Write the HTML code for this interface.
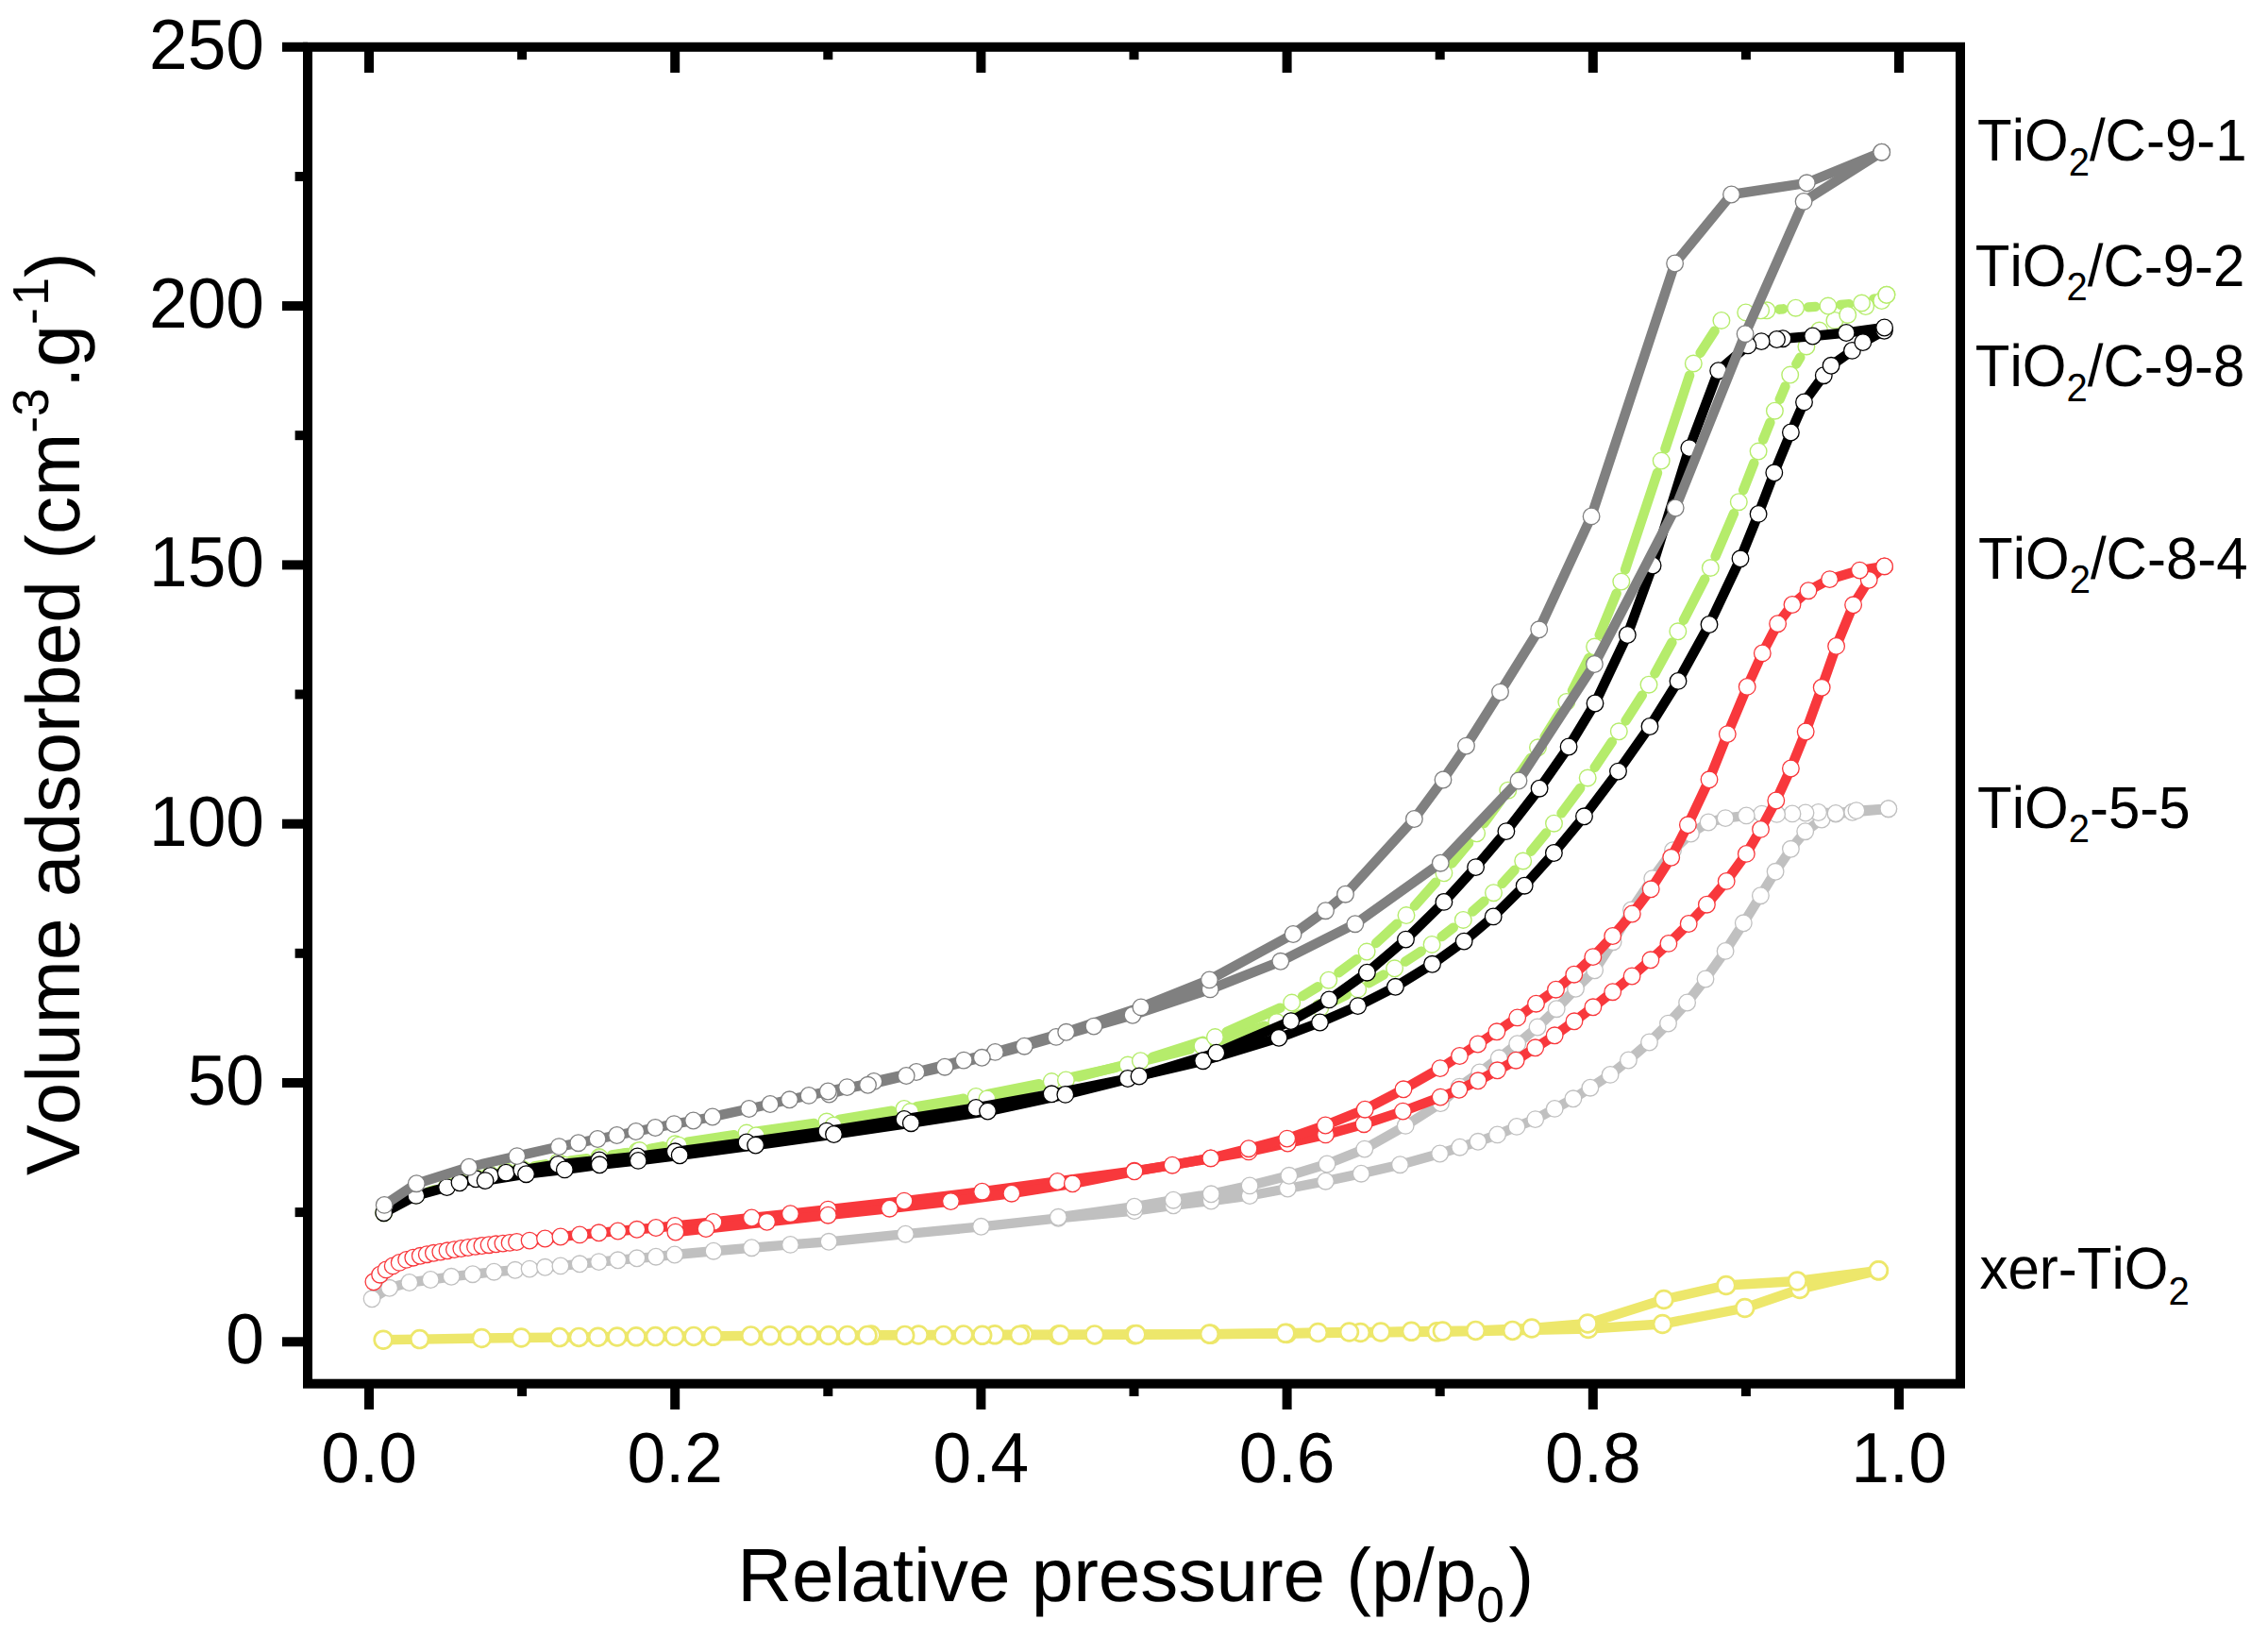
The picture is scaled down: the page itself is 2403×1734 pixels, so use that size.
<!DOCTYPE html>
<html lang="en"><head><meta charset="utf-8"><title>N2 adsorption isotherms</title>
<style>
html,body{margin:0;padding:0;background:#fff;}
body{width:2403px;height:1734px;overflow:hidden;}
svg{display:block;}
text{font-family:"Liberation Sans", Arial, Helvetica, sans-serif;fill:#000;font-kerning:none;text-rendering:geometricPrecision;}
</style></head><body>
<svg width="2403" height="1734" viewBox="0 0 2403 1734">
<rect x="0" y="0" width="2403" height="1734" fill="#ffffff"/>
<g id="sF">
<polyline points="406.1,1419.2 444.6,1418.6 510.3,1417.5 552.2,1417.0 592.8,1416.6 613.3,1416.4 633.6,1416.2 653.9,1416.0 674.1,1415.8 694.4,1415.6 714.7,1415.5 735.0,1415.4 755.3,1415.3 795.6,1414.9 816.1,1414.8 835.7,1414.7 856.9,1414.6 878.0,1414.5 897.9,1414.4 919.0,1414.4 958.7,1414.4 999.7,1414.4 1040.7,1414.3 1080.4,1414.2 1121.4,1414.0 1159.8,1413.9 1202.1,1413.7 1282.8,1413.3 1363.5,1412.5 1441.5,1411.5 1522.4,1410.8 1602.5,1409.4 1682.8,1407.5 1761.4,1402.5 1848.7,1385.5 1906.9,1365.5 1990.4,1345.8" fill="none" stroke="#EDE76B" stroke-width="10.4" stroke-linejoin="round" stroke-linecap="butt"/>
<polyline points="1990.4,1345.8 1904.3,1357.0 1828.9,1361.5 1762.9,1376.5 1682.2,1402.0 1622.9,1407.0 1563.5,1409.4 1528.4,1410.0 1495.4,1410.3 1463.0,1411.0 1429.5,1411.0 1396.5,1411.5 1362.0,1412.3 1281.4,1413.1 1204.0,1413.5 1123.5,1413.8 1084.4,1413.6 1054.0,1413.8 1020.9,1413.9 973.3,1414.0 923.0,1414.1" fill="none" stroke="#EDE76B" stroke-width="10.4" stroke-linejoin="round" stroke-linecap="butt"/>
<g fill="#ffffff" stroke="#EDE76B" stroke-width="2.7">
<circle cx="1084.4" cy="1413.6" r="9.4"/>
<circle cx="1054.0" cy="1413.8" r="9.4"/>
<circle cx="1020.9" cy="1413.9" r="9.4"/>
<circle cx="973.3" cy="1414.0" r="9.4"/>
<circle cx="923.0" cy="1414.1" r="9.4"/>
</g>
<g fill="#ffffff" stroke="#EDE76B" stroke-width="2.7">
<circle cx="406.1" cy="1419.2" r="9.4"/>
<circle cx="444.6" cy="1418.6" r="9.4"/>
<circle cx="510.3" cy="1417.5" r="9.4"/>
<circle cx="552.2" cy="1417.0" r="9.4"/>
<circle cx="592.8" cy="1416.6" r="9.4"/>
<circle cx="613.3" cy="1416.4" r="9.4"/>
<circle cx="633.6" cy="1416.2" r="9.4"/>
<circle cx="653.9" cy="1416.0" r="9.4"/>
<circle cx="674.1" cy="1415.8" r="9.4"/>
<circle cx="694.4" cy="1415.6" r="9.4"/>
<circle cx="714.7" cy="1415.5" r="9.4"/>
<circle cx="735.0" cy="1415.4" r="9.4"/>
<circle cx="755.3" cy="1415.3" r="9.4"/>
<circle cx="795.6" cy="1414.9" r="9.4"/>
<circle cx="816.1" cy="1414.8" r="9.4"/>
<circle cx="835.7" cy="1414.7" r="9.4"/>
<circle cx="856.9" cy="1414.6" r="9.4"/>
<circle cx="878.0" cy="1414.5" r="9.4"/>
<circle cx="897.9" cy="1414.4" r="9.4"/>
<circle cx="919.0" cy="1414.4" r="9.4"/>
<circle cx="958.7" cy="1414.4" r="9.4"/>
<circle cx="999.7" cy="1414.4" r="9.4"/>
<circle cx="1040.7" cy="1414.3" r="9.4"/>
<circle cx="1080.4" cy="1414.2" r="9.4"/>
<circle cx="1121.4" cy="1414.0" r="9.4"/>
<circle cx="1159.8" cy="1413.9" r="9.4"/>
<circle cx="1202.1" cy="1413.7" r="9.4"/>
<circle cx="1282.8" cy="1413.3" r="9.4"/>
<circle cx="1363.5" cy="1412.5" r="9.4"/>
<circle cx="1441.5" cy="1411.5" r="9.4"/>
<circle cx="1522.4" cy="1410.8" r="9.4"/>
<circle cx="1602.5" cy="1409.4" r="9.4"/>
<circle cx="1682.8" cy="1407.5" r="9.4"/>
<circle cx="1761.4" cy="1402.5" r="9.4"/>
<circle cx="1848.7" cy="1385.5" r="9.4"/>
<circle cx="1906.9" cy="1365.5" r="9.4"/>
<circle cx="1990.4" cy="1345.8" r="9.4"/>
</g>
<g fill="#ffffff" stroke="#EDE76B" stroke-width="2.7">
<circle cx="1990.4" cy="1345.8" r="9.4"/>
<circle cx="1904.3" cy="1357.0" r="9.4"/>
<circle cx="1828.9" cy="1361.5" r="9.4"/>
<circle cx="1762.9" cy="1376.5" r="9.4"/>
<circle cx="1682.2" cy="1402.0" r="9.4"/>
<circle cx="1622.9" cy="1407.0" r="9.4"/>
<circle cx="1563.5" cy="1409.4" r="9.4"/>
<circle cx="1528.4" cy="1410.0" r="9.4"/>
<circle cx="1495.4" cy="1410.3" r="9.4"/>
<circle cx="1463.0" cy="1411.0" r="9.4"/>
<circle cx="1429.5" cy="1411.0" r="9.4"/>
<circle cx="1396.5" cy="1411.5" r="9.4"/>
<circle cx="1362.0" cy="1412.3" r="9.4"/>
<circle cx="1281.4" cy="1413.1" r="9.4"/>
<circle cx="1204.0" cy="1413.5" r="9.4"/>
<circle cx="1123.5" cy="1413.8" r="9.4"/>
</g>
</g>
<g id="sE">
<polyline points="394.1,1375.8 412.6,1364.3 433.8,1358.5 456.2,1355.5 478.2,1352.3 500.8,1349.7 523.4,1347.2 545.8,1345.3 561.1,1344.1 577.5,1342.3 593.9,1340.9 614.2,1338.8 634.5,1336.6 654.7,1334.8 674.8,1332.8 695.0,1331.2 714.8,1329.0 756.0,1325.2 796.4,1321.7 837.4,1318.4 878.1,1315.3 959.4,1307.2 1039.5,1299.3 1121.3,1290.3 1201.9,1282.5 1243.2,1276.8 1283.2,1272.0 1324.1,1266.5 1364.3,1259.0 1404.5,1251.2 1442.2,1243.2 1483.4,1233.7 1525.6,1222.0 1546.7,1215.2 1566.0,1209.3 1586.5,1201.9 1607.0,1193.4 1626.7,1185.6 1647.2,1174.4 1666.9,1163.8 1684.9,1152.2 1706.1,1138.4 1725.4,1123.0 1747.5,1104.0 1767.5,1084.1 1787.6,1062.0 1807.0,1037.0 1828.1,1007.4 1847.3,977.8 1865.4,948.7 1881.1,923.3 1897.4,899.3 1912.7,880.7 1930.1,868.0 1945.0,862.1 1962.6,860.3 2000.8,856.7" fill="none" stroke="#C0C0C0" stroke-width="10.4" stroke-linejoin="round" stroke-linecap="butt"/>
<polyline points="2000.8,856.7 1966.9,858.6 1945.0,861.5 1926.6,860.5 1913.0,861.0 1899.0,861.9 1882.6,862.4 1866.7,862.1 1850.3,863.9 1828.1,866.6 1810.1,871.0 1791.5,883.0 1772.5,900.7 1750.7,930.6 1728.4,964.0 1709.1,997.7 1689.6,1027.8 1669.5,1047.3 1649.2,1068.7 1629.0,1088.0 1607.7,1105.7 1588.3,1120.8 1567.7,1136.0 1546.3,1151.1 1526.5,1168.6 1489.2,1192.4 1445.8,1217.1 1406.0,1233.0 1365.8,1245.3 1324.1,1255.9 1283.2,1264.8 1243.2,1271.2 1201.9,1278.2 1121.3,1289.3" fill="none" stroke="#C0C0C0" stroke-width="10.4" stroke-linejoin="round" stroke-linecap="butt"/>
<g fill="#ffffff" stroke="#C0C0C0" stroke-width="1.3">
<circle cx="394.1" cy="1375.8" r="8.8"/>
<circle cx="412.6" cy="1364.3" r="8.8"/>
<circle cx="433.8" cy="1358.5" r="8.8"/>
<circle cx="456.2" cy="1355.5" r="8.8"/>
<circle cx="478.2" cy="1352.3" r="8.8"/>
<circle cx="500.8" cy="1349.7" r="8.8"/>
<circle cx="523.4" cy="1347.2" r="8.8"/>
<circle cx="545.8" cy="1345.3" r="8.8"/>
<circle cx="561.1" cy="1344.1" r="8.8"/>
<circle cx="577.5" cy="1342.3" r="8.8"/>
<circle cx="593.9" cy="1340.9" r="8.8"/>
<circle cx="614.2" cy="1338.8" r="8.8"/>
<circle cx="634.5" cy="1336.6" r="8.8"/>
<circle cx="654.7" cy="1334.8" r="8.8"/>
<circle cx="674.8" cy="1332.8" r="8.8"/>
<circle cx="695.0" cy="1331.2" r="8.8"/>
<circle cx="714.8" cy="1329.0" r="8.8"/>
<circle cx="756.0" cy="1325.2" r="8.8"/>
<circle cx="796.4" cy="1321.7" r="8.8"/>
<circle cx="837.4" cy="1318.4" r="8.8"/>
<circle cx="878.1" cy="1315.3" r="8.8"/>
<circle cx="959.4" cy="1307.2" r="8.8"/>
<circle cx="1039.5" cy="1299.3" r="8.8"/>
<circle cx="1121.3" cy="1290.3" r="8.8"/>
<circle cx="1201.9" cy="1282.5" r="8.8"/>
<circle cx="1243.2" cy="1276.8" r="8.8"/>
<circle cx="1283.2" cy="1272.0" r="8.8"/>
<circle cx="1324.1" cy="1266.5" r="8.8"/>
<circle cx="1364.3" cy="1259.0" r="8.8"/>
<circle cx="1404.5" cy="1251.2" r="8.8"/>
<circle cx="1442.2" cy="1243.2" r="8.8"/>
<circle cx="1483.4" cy="1233.7" r="8.8"/>
<circle cx="1525.6" cy="1222.0" r="8.8"/>
<circle cx="1546.7" cy="1215.2" r="8.8"/>
<circle cx="1566.0" cy="1209.3" r="8.8"/>
<circle cx="1586.5" cy="1201.9" r="8.8"/>
<circle cx="1607.0" cy="1193.4" r="8.8"/>
<circle cx="1626.7" cy="1185.6" r="8.8"/>
<circle cx="1647.2" cy="1174.4" r="8.8"/>
<circle cx="1666.9" cy="1163.8" r="8.8"/>
<circle cx="1684.9" cy="1152.2" r="8.8"/>
<circle cx="1706.1" cy="1138.4" r="8.8"/>
<circle cx="1725.4" cy="1123.0" r="8.8"/>
<circle cx="1747.5" cy="1104.0" r="8.8"/>
<circle cx="1767.5" cy="1084.1" r="8.8"/>
<circle cx="1787.6" cy="1062.0" r="8.8"/>
<circle cx="1807.0" cy="1037.0" r="8.8"/>
<circle cx="1828.1" cy="1007.4" r="8.8"/>
<circle cx="1847.3" cy="977.8" r="8.8"/>
<circle cx="1865.4" cy="948.7" r="8.8"/>
<circle cx="1881.1" cy="923.3" r="8.8"/>
<circle cx="1897.4" cy="899.3" r="8.8"/>
<circle cx="1912.7" cy="880.7" r="8.8"/>
<circle cx="1930.1" cy="868.0" r="8.8"/>
<circle cx="1945.0" cy="862.1" r="8.8"/>
<circle cx="1962.6" cy="860.3" r="8.8"/>
<circle cx="2000.8" cy="856.7" r="8.8"/>
</g>
<g fill="#ffffff" stroke="#C0C0C0" stroke-width="1.3">
<circle cx="2000.8" cy="856.7" r="8.8"/>
<circle cx="1966.9" cy="858.6" r="8.8"/>
<circle cx="1945.0" cy="861.5" r="8.8"/>
<circle cx="1926.6" cy="860.5" r="8.8"/>
<circle cx="1913.0" cy="861.0" r="8.8"/>
<circle cx="1899.0" cy="861.9" r="8.8"/>
<circle cx="1882.6" cy="862.4" r="8.8"/>
<circle cx="1866.7" cy="862.1" r="8.8"/>
<circle cx="1850.3" cy="863.9" r="8.8"/>
<circle cx="1828.1" cy="866.6" r="8.8"/>
<circle cx="1810.1" cy="871.0" r="8.8"/>
<circle cx="1791.5" cy="883.0" r="8.8"/>
<circle cx="1772.5" cy="900.7" r="8.8"/>
<circle cx="1750.7" cy="930.6" r="8.8"/>
<circle cx="1728.4" cy="964.0" r="8.8"/>
<circle cx="1709.1" cy="997.7" r="8.8"/>
<circle cx="1689.6" cy="1027.8" r="8.8"/>
<circle cx="1669.5" cy="1047.3" r="8.8"/>
<circle cx="1649.2" cy="1068.7" r="8.8"/>
<circle cx="1629.0" cy="1088.0" r="8.8"/>
<circle cx="1607.7" cy="1105.7" r="8.8"/>
<circle cx="1588.3" cy="1120.8" r="8.8"/>
<circle cx="1567.7" cy="1136.0" r="8.8"/>
<circle cx="1546.3" cy="1151.1" r="8.8"/>
<circle cx="1526.5" cy="1168.6" r="8.8"/>
<circle cx="1489.2" cy="1192.4" r="8.8"/>
<circle cx="1445.8" cy="1217.1" r="8.8"/>
<circle cx="1406.0" cy="1233.0" r="8.8"/>
<circle cx="1365.8" cy="1245.3" r="8.8"/>
<circle cx="1324.1" cy="1255.9" r="8.8"/>
<circle cx="1283.2" cy="1264.8" r="8.8"/>
<circle cx="1243.2" cy="1271.2" r="8.8"/>
<circle cx="1201.9" cy="1278.2" r="8.8"/>
<circle cx="1121.3" cy="1289.3" r="8.8"/>
</g>
</g>
<g id="sD">
<polyline points="395.9,1357.8 402.6,1350.2 409.1,1344.9 416.2,1340.9 423.2,1337.4 430.6,1334.4 437.8,1332.2 445.3,1330.3 452.3,1328.7 459.4,1327.3 466.8,1326.1 474.0,1324.8 481.4,1323.6 488.8,1322.5 496.0,1321.5 503.5,1320.4 510.9,1319.5 518.1,1318.7 525.5,1317.8 532.9,1317.1 540.1,1316.4 547.5,1315.5 561.1,1314.1 577.5,1312.0 593.9,1310.0 614.2,1307.9 634.5,1305.8 654.7,1304.0 674.8,1302.3 695.0,1300.5 715.1,1298.4 756.0,1294.4 796.4,1290.0 837.4,1285.7 877.3,1281.1 958.0,1272.1 1040.6,1262.2 1120.4,1251.5 1201.9,1240.3 1242.1,1234.2 1282.8,1226.9 1323.0,1219.9 1364.3,1211.0 1404.5,1201.9 1445.1,1190.7 1486.4,1177.1 1526.2,1162.1 1545.9,1154.3 1566.0,1144.8 1586.5,1133.8 1606.2,1123.2 1626.7,1109.8 1647.2,1096.8 1668.0,1081.8 1687.9,1066.8 1708.7,1050.7 1729.1,1034.0 1748.9,1016.8 1767.9,999.4 1789.2,978.5 1808.4,958.2 1829.2,933.4 1850.3,904.4 1865.5,878.4 1881.8,848.0 1897.4,814.0 1913.2,775.0 1930.2,728.3 1945.6,684.4 1963.6,640.8 1980.2,614.3 1996.6,599.9" fill="none" stroke="#F8383C" stroke-width="10.4" stroke-linejoin="round" stroke-linecap="butt"/>
<polyline points="1996.6,599.9 1970.4,604.1 1938.6,613.6 1916.0,625.7 1899.0,640.5 1883.6,660.7 1867.3,691.9 1851.2,727.4 1830.3,777.6 1811.0,825.8 1788.4,873.8 1770.7,908.3 1749.2,941.8 1729.3,968.0 1708.7,991.5 1687.8,1013.6 1667.8,1032.2 1648.5,1048.2 1627.5,1063.2 1607.7,1077.9 1585.9,1092.8 1565.8,1106.0 1546.5,1118.5 1525.9,1131.6 1487.0,1153.8 1446.2,1175.2 1404.3,1192.0 1363.7,1206.1 1323.0,1216.7 1282.8,1226.9 1201.9,1240.8 1136.4,1253.8 1071.8,1264.2 1007.4,1272.6 942.5,1280.2 877.3,1287.2 812.6,1294.3 748.0,1301.5 715.8,1305.1" fill="none" stroke="#F8383C" stroke-width="10.4" stroke-linejoin="round" stroke-linecap="butt"/>
<g fill="#ffffff" stroke="#F8383C" stroke-width="1.3">
<circle cx="395.9" cy="1357.8" r="8.8"/>
<circle cx="402.6" cy="1350.2" r="8.8"/>
<circle cx="409.1" cy="1344.9" r="8.8"/>
<circle cx="416.2" cy="1340.9" r="8.8"/>
<circle cx="423.2" cy="1337.4" r="8.8"/>
<circle cx="430.6" cy="1334.4" r="8.8"/>
<circle cx="437.8" cy="1332.2" r="8.8"/>
<circle cx="445.3" cy="1330.3" r="8.8"/>
<circle cx="452.3" cy="1328.7" r="8.8"/>
<circle cx="459.4" cy="1327.3" r="8.8"/>
<circle cx="466.8" cy="1326.1" r="8.8"/>
<circle cx="474.0" cy="1324.8" r="8.8"/>
<circle cx="481.4" cy="1323.6" r="8.8"/>
<circle cx="488.8" cy="1322.5" r="8.8"/>
<circle cx="496.0" cy="1321.5" r="8.8"/>
<circle cx="503.5" cy="1320.4" r="8.8"/>
<circle cx="510.9" cy="1319.5" r="8.8"/>
<circle cx="518.1" cy="1318.7" r="8.8"/>
<circle cx="525.5" cy="1317.8" r="8.8"/>
<circle cx="532.9" cy="1317.1" r="8.8"/>
<circle cx="540.1" cy="1316.4" r="8.8"/>
<circle cx="547.5" cy="1315.5" r="8.8"/>
<circle cx="561.1" cy="1314.1" r="8.8"/>
<circle cx="577.5" cy="1312.0" r="8.8"/>
<circle cx="593.9" cy="1310.0" r="8.8"/>
<circle cx="614.2" cy="1307.9" r="8.8"/>
<circle cx="634.5" cy="1305.8" r="8.8"/>
<circle cx="654.7" cy="1304.0" r="8.8"/>
<circle cx="674.8" cy="1302.3" r="8.8"/>
<circle cx="695.0" cy="1300.5" r="8.8"/>
<circle cx="715.1" cy="1298.4" r="8.8"/>
<circle cx="756.0" cy="1294.4" r="8.8"/>
<circle cx="796.4" cy="1290.0" r="8.8"/>
<circle cx="837.4" cy="1285.7" r="8.8"/>
<circle cx="877.3" cy="1281.1" r="8.8"/>
<circle cx="958.0" cy="1272.1" r="8.8"/>
<circle cx="1040.6" cy="1262.2" r="8.8"/>
<circle cx="1120.4" cy="1251.5" r="8.8"/>
<circle cx="1201.9" cy="1240.3" r="8.8"/>
<circle cx="1242.1" cy="1234.2" r="8.8"/>
<circle cx="1282.8" cy="1226.9" r="8.8"/>
<circle cx="1323.0" cy="1219.9" r="8.8"/>
<circle cx="1364.3" cy="1211.0" r="8.8"/>
<circle cx="1404.5" cy="1201.9" r="8.8"/>
<circle cx="1445.1" cy="1190.7" r="8.8"/>
<circle cx="1486.4" cy="1177.1" r="8.8"/>
<circle cx="1526.2" cy="1162.1" r="8.8"/>
<circle cx="1545.9" cy="1154.3" r="8.8"/>
<circle cx="1566.0" cy="1144.8" r="8.8"/>
<circle cx="1586.5" cy="1133.8" r="8.8"/>
<circle cx="1606.2" cy="1123.2" r="8.8"/>
<circle cx="1626.7" cy="1109.8" r="8.8"/>
<circle cx="1647.2" cy="1096.8" r="8.8"/>
<circle cx="1668.0" cy="1081.8" r="8.8"/>
<circle cx="1687.9" cy="1066.8" r="8.8"/>
<circle cx="1708.7" cy="1050.7" r="8.8"/>
<circle cx="1729.1" cy="1034.0" r="8.8"/>
<circle cx="1748.9" cy="1016.8" r="8.8"/>
<circle cx="1767.9" cy="999.4" r="8.8"/>
<circle cx="1789.2" cy="978.5" r="8.8"/>
<circle cx="1808.4" cy="958.2" r="8.8"/>
<circle cx="1829.2" cy="933.4" r="8.8"/>
<circle cx="1850.3" cy="904.4" r="8.8"/>
<circle cx="1865.5" cy="878.4" r="8.8"/>
<circle cx="1881.8" cy="848.0" r="8.8"/>
<circle cx="1897.4" cy="814.0" r="8.8"/>
<circle cx="1913.2" cy="775.0" r="8.8"/>
<circle cx="1930.2" cy="728.3" r="8.8"/>
<circle cx="1945.6" cy="684.4" r="8.8"/>
<circle cx="1963.6" cy="640.8" r="8.8"/>
<circle cx="1980.2" cy="614.3" r="8.8"/>
<circle cx="1996.6" cy="599.9" r="8.8"/>
</g>
<g fill="#ffffff" stroke="#F8383C" stroke-width="1.3">
<circle cx="1996.6" cy="599.9" r="8.8"/>
<circle cx="1970.4" cy="604.1" r="8.8"/>
<circle cx="1938.6" cy="613.6" r="8.8"/>
<circle cx="1916.0" cy="625.7" r="8.8"/>
<circle cx="1899.0" cy="640.5" r="8.8"/>
<circle cx="1883.6" cy="660.7" r="8.8"/>
<circle cx="1867.3" cy="691.9" r="8.8"/>
<circle cx="1851.2" cy="727.4" r="8.8"/>
<circle cx="1830.3" cy="777.6" r="8.8"/>
<circle cx="1811.0" cy="825.8" r="8.8"/>
<circle cx="1788.4" cy="873.8" r="8.8"/>
<circle cx="1770.7" cy="908.3" r="8.8"/>
<circle cx="1749.2" cy="941.8" r="8.8"/>
<circle cx="1729.3" cy="968.0" r="8.8"/>
<circle cx="1708.7" cy="991.5" r="8.8"/>
<circle cx="1687.8" cy="1013.6" r="8.8"/>
<circle cx="1667.8" cy="1032.2" r="8.8"/>
<circle cx="1648.5" cy="1048.2" r="8.8"/>
<circle cx="1627.5" cy="1063.2" r="8.8"/>
<circle cx="1607.7" cy="1077.9" r="8.8"/>
<circle cx="1585.9" cy="1092.8" r="8.8"/>
<circle cx="1565.8" cy="1106.0" r="8.8"/>
<circle cx="1546.5" cy="1118.5" r="8.8"/>
<circle cx="1525.9" cy="1131.6" r="8.8"/>
<circle cx="1487.0" cy="1153.8" r="8.8"/>
<circle cx="1446.2" cy="1175.2" r="8.8"/>
<circle cx="1404.3" cy="1192.0" r="8.8"/>
<circle cx="1363.7" cy="1206.1" r="8.8"/>
<circle cx="1323.0" cy="1216.7" r="8.8"/>
<circle cx="1282.8" cy="1226.9" r="8.8"/>
<circle cx="1201.9" cy="1240.8" r="8.8"/>
<circle cx="1136.4" cy="1253.8" r="8.8"/>
<circle cx="1071.8" cy="1264.2" r="8.8"/>
<circle cx="1007.4" cy="1272.6" r="8.8"/>
<circle cx="942.5" cy="1280.2" r="8.8"/>
<circle cx="877.3" cy="1287.2" r="8.8"/>
<circle cx="812.6" cy="1294.3" r="8.8"/>
<circle cx="748.0" cy="1301.5" r="8.8"/>
<circle cx="715.8" cy="1305.1" r="8.8"/>
</g>
</g>
<g id="sB">
<path d="M418.4 1278.2L429.2 1272.3M453.8 1262.2L460.6 1260.2M565.9 1235.4L578.0 1233.3M604.5 1229.3L621.6 1227.2M648.1 1223.5L662.2 1221.3M688.6 1216.8L702.1 1214.3M728.5 1209.7L777.8 1202.1M804.3 1198.2L862.6 1189.9M889.1 1185.8L944.8 1176.6M971.2 1172.2L1020.9 1163.7M1047.2 1158.8L1101.1 1148.2M1127.3 1142.8L1181.8 1130.9M1207.9 1124.8L1260.9 1111.4M1286.6 1104.0L1340.0 1086.6M1365.4 1078.3L1386.1 1071.6M1410.8 1061.5L1426.7 1053.8M1450.4 1041.3L1465.9 1032.4M1488.9 1018.6L1505.8 1007.6M1527.6 992.1L1539.8 982.7M1560.3 965.5L1572.5 954.6M1591.6 935.9L1604.6 921.8M1622.2 901.7L1638.0 882.5M1654.5 861.4L1674.2 834.8M1689.7 812.9L1707.8 785.9M1722.5 763.5L1739.8 736.5M1753.4 713.4L1771.4 680.6M1783.9 656.9L1806.2 613.4M1817.6 589.2L1837.0 544.0M1847.1 519.2L1858.3 490.6M1868.1 465.7L1875.4 447.6M1885.7 422.9L1891.4 409.4M1903.3 385.5L1907.3 378.6" fill="none" stroke="#B5EC6B" stroke-width="10.4" stroke-linecap="round"/>
<path d="M1986.2 316.5L1985.2 316.8M1959.2 322.2L1950.2 322.9M1923.5 324.9L1916.0 325.4M1889.2 327.3L1885.4 327.7M1816.6 350.6L1801.6 373.8M1790.1 397.7L1764.4 475.4M1756.0 500.8L1722.0 603.4M1712.7 628.5L1694.7 672.6M1683.5 696.9L1665.9 731.5M1652.7 754.8L1636.6 780.4M1621.8 802.8L1605.5 826.2M1589.9 848.0L1572.5 872.0M1556.1 893.1L1538.4 914.5M1521.0 934.8L1498.9 959.6M1480.1 978.7L1458.0 999.0M1437.4 1016.1L1418.4 1030.2M1396.3 1045.2L1380.1 1055.1M1356.5 1067.6L1299.6 1093.1M1274.6 1102.7L1221.2 1119.6M1195.4 1127.0L1142.4 1140.6M1116.4 1147.0L1058.9 1160.8M1032.7 1166.1L977.6 1175.4M951.2 1179.9L896.2 1189.8M869.7 1193.8L814.4 1201.1M787.8 1204.5L732.5 1211.5M705.9 1214.9L690.9 1216.9M664.4 1221.0L648.7 1224.0M622.4 1229.1L611.4 1231.3M585.1 1236.1L570.7 1238.4M544.3 1242.9L527.3 1246.1" fill="none" stroke="#B5EC6B" stroke-width="10.4" stroke-linecap="round"/>
<g fill="#ffffff" stroke="#B5EC6B" stroke-width="1.4">
<circle cx="406.7" cy="1284.7" r="8.8"/>
<circle cx="440.9" cy="1265.8" r="8.8"/>
<circle cx="473.5" cy="1256.6" r="8.8"/>
<circle cx="487.0" cy="1251.7" r="8.8"/>
<circle cx="504.2" cy="1247.6" r="8.8"/>
<circle cx="519.6" cy="1244.1" r="8.8"/>
<circle cx="536.1" cy="1240.8" r="8.8"/>
<circle cx="552.7" cy="1237.7" r="8.8"/>
<circle cx="591.2" cy="1231.0" r="8.8"/>
<circle cx="634.9" cy="1225.6" r="8.8"/>
<circle cx="675.4" cy="1219.3" r="8.8"/>
<circle cx="715.3" cy="1211.8" r="8.8"/>
<circle cx="791.0" cy="1200.1" r="8.8"/>
<circle cx="875.9" cy="1188.0" r="8.8"/>
<circle cx="958.0" cy="1174.4" r="8.8"/>
<circle cx="1034.1" cy="1161.4" r="8.8"/>
<circle cx="1114.2" cy="1145.6" r="8.8"/>
<circle cx="1194.9" cy="1128.1" r="8.8"/>
<circle cx="1273.9" cy="1108.1" r="8.8"/>
<circle cx="1352.7" cy="1082.5" r="8.8"/>
<circle cx="1398.8" cy="1067.4" r="8.8"/>
<circle cx="1438.7" cy="1047.9" r="8.8"/>
<circle cx="1477.6" cy="1025.8" r="8.8"/>
<circle cx="1517.1" cy="1000.4" r="8.8"/>
<circle cx="1550.3" cy="974.4" r="8.8"/>
<circle cx="1582.5" cy="945.7" r="8.8"/>
<circle cx="1613.7" cy="912.0" r="8.8"/>
<circle cx="1646.5" cy="872.2" r="8.8"/>
<circle cx="1682.2" cy="824.0" r="8.8"/>
<circle cx="1715.3" cy="774.8" r="8.8"/>
<circle cx="1747.0" cy="725.2" r="8.8"/>
<circle cx="1777.8" cy="668.8" r="8.8"/>
<circle cx="1812.3" cy="601.5" r="8.8"/>
<circle cx="1842.3" cy="531.7" r="8.8"/>
<circle cx="1863.1" cy="478.1" r="8.8"/>
<circle cx="1880.4" cy="435.2" r="8.8"/>
<circle cx="1896.7" cy="397.1" r="8.8"/>
<circle cx="1913.9" cy="367.0" r="8.8"/>
<circle cx="1927.6" cy="350.0" r="8.8"/>
<circle cx="1943.9" cy="339.4" r="8.8"/>
<circle cx="1957.7" cy="333.5" r="8.8"/>
<circle cx="1976.7" cy="324.6" r="8.8"/>
<circle cx="1993.7" cy="318.6" r="8.8"/>
<circle cx="1998.9" cy="312.3" r="8.8"/>
</g>
<g fill="#ffffff" stroke="#B5EC6B" stroke-width="1.4">
<circle cx="1998.9" cy="312.3" r="8.8"/>
<circle cx="1972.5" cy="321.0" r="8.8"/>
<circle cx="1936.9" cy="324.1" r="8.8"/>
<circle cx="1902.6" cy="326.2" r="8.8"/>
<circle cx="1872.0" cy="328.8" r="8.8"/>
<circle cx="1865.6" cy="328.8" r="8.8"/>
<circle cx="1849.7" cy="330.9" r="8.8"/>
<circle cx="1823.9" cy="339.4" r="8.8"/>
<circle cx="1794.3" cy="385.0" r="8.8"/>
<circle cx="1760.2" cy="488.1" r="8.8"/>
<circle cx="1717.8" cy="616.1" r="8.8"/>
<circle cx="1689.6" cy="685.0" r="8.8"/>
<circle cx="1659.8" cy="743.4" r="8.8"/>
<circle cx="1629.5" cy="791.8" r="8.8"/>
<circle cx="1597.8" cy="837.2" r="8.8"/>
<circle cx="1564.6" cy="882.8" r="8.8"/>
<circle cx="1529.9" cy="924.8" r="8.8"/>
<circle cx="1490.0" cy="969.6" r="8.8"/>
<circle cx="1448.1" cy="1008.1" r="8.8"/>
<circle cx="1407.7" cy="1038.2" r="8.8"/>
<circle cx="1368.7" cy="1062.1" r="8.8"/>
<circle cx="1287.4" cy="1098.6" r="8.8"/>
<circle cx="1208.4" cy="1123.7" r="8.8"/>
<circle cx="1129.4" cy="1143.9" r="8.8"/>
<circle cx="1045.9" cy="1163.9" r="8.8"/>
<circle cx="964.4" cy="1177.6" r="8.8"/>
<circle cx="883.0" cy="1192.1" r="8.8"/>
<circle cx="801.1" cy="1202.8" r="8.8"/>
<circle cx="719.2" cy="1213.2" r="8.8"/>
<circle cx="677.6" cy="1218.6" r="8.8"/>
<circle cx="635.5" cy="1226.4" r="8.8"/>
<circle cx="598.3" cy="1234.0" r="8.8"/>
<circle cx="557.5" cy="1240.5" r="8.8"/>
<circle cx="514.1" cy="1248.5" r="8.8"/>
</g>
</g>
<g id="sC">
<polyline points="406.7,1284.7 440.9,1266.4 473.5,1257.6 487.0,1252.8 504.2,1248.8 519.6,1245.4 536.1,1242.2 552.7,1239.3 591.2,1233.4 634.9,1229.0 675.4,1225.0 715.3,1219.8 791.0,1209.9 875.9,1198.1 958.0,1185.5 1034.1,1173.4 1114.2,1158.8 1194.9,1142.5 1274.6,1123.7 1355.0,1099.3 1398.5,1083.0 1438.7,1065.6 1478.5,1045.3 1517.5,1021.3 1551.2,997.1 1582.2,970.9 1615.2,938.2 1646.4,903.5 1678.5,864.8 1714.5,817.1 1748.0,769.5 1778.0,721.4 1811.0,661.5 1844.0,591.8 1863.1,544.4 1879.8,500.8 1897.4,458.0 1911.5,425.9 1932.3,397.7 1940.1,387.3 1962.4,371.4 1973.8,362.6 1996.4,350.3" fill="none" stroke="#000000" stroke-width="10.4" stroke-linejoin="round" stroke-linecap="butt"/>
<polyline points="1996.6,347.0 1956.2,352.5 1920.6,356.0 1888.9,358.7 1882.5,359.5 1866.2,361.6 1851.9,365.9 1820.7,392.7 1789.8,474.6 1751.1,599.0 1724.3,672.5 1690.0,745.0 1662.1,791.0 1631.1,835.2 1595.9,880.6 1563.6,918.6 1529.9,955.4 1489.5,995.1 1448.4,1030.2 1408.2,1058.9 1367.8,1081.6 1288.8,1115.2 1207.0,1140.0 1128.8,1159.4 1046.5,1177.1 965.3,1189.7 883.5,1201.5 800.6,1213.1 720.2,1223.8 676.2,1229.4 635.3,1233.8 598.3,1238.9 557.5,1243.7 514.1,1250.6" fill="none" stroke="#000000" stroke-width="10.4" stroke-linejoin="round" stroke-linecap="butt"/>
<g fill="#ffffff" stroke="#000000" stroke-width="1.3">
<circle cx="406.7" cy="1284.7" r="8.8"/>
<circle cx="440.9" cy="1266.4" r="8.8"/>
<circle cx="473.5" cy="1257.6" r="8.8"/>
<circle cx="487.0" cy="1252.8" r="8.8"/>
<circle cx="504.2" cy="1248.8" r="8.8"/>
<circle cx="519.6" cy="1245.4" r="8.8"/>
<circle cx="536.1" cy="1242.2" r="8.8"/>
<circle cx="552.7" cy="1239.3" r="8.8"/>
<circle cx="591.2" cy="1233.4" r="8.8"/>
<circle cx="634.9" cy="1229.0" r="8.8"/>
<circle cx="675.4" cy="1225.0" r="8.8"/>
<circle cx="715.3" cy="1219.8" r="8.8"/>
<circle cx="791.0" cy="1209.9" r="8.8"/>
<circle cx="875.9" cy="1198.1" r="8.8"/>
<circle cx="958.0" cy="1185.5" r="8.8"/>
<circle cx="1034.1" cy="1173.4" r="8.8"/>
<circle cx="1114.2" cy="1158.8" r="8.8"/>
<circle cx="1194.9" cy="1142.5" r="8.8"/>
<circle cx="1274.6" cy="1123.7" r="8.8"/>
<circle cx="1355.0" cy="1099.3" r="8.8"/>
<circle cx="1398.5" cy="1083.0" r="8.8"/>
<circle cx="1438.7" cy="1065.6" r="8.8"/>
<circle cx="1478.5" cy="1045.3" r="8.8"/>
<circle cx="1517.5" cy="1021.3" r="8.8"/>
<circle cx="1551.2" cy="997.1" r="8.8"/>
<circle cx="1582.2" cy="970.9" r="8.8"/>
<circle cx="1615.2" cy="938.2" r="8.8"/>
<circle cx="1646.4" cy="903.5" r="8.8"/>
<circle cx="1678.5" cy="864.8" r="8.8"/>
<circle cx="1714.5" cy="817.1" r="8.8"/>
<circle cx="1748.0" cy="769.5" r="8.8"/>
<circle cx="1778.0" cy="721.4" r="8.8"/>
<circle cx="1811.0" cy="661.5" r="8.8"/>
<circle cx="1844.0" cy="591.8" r="8.8"/>
<circle cx="1863.1" cy="544.4" r="8.8"/>
<circle cx="1879.8" cy="500.8" r="8.8"/>
<circle cx="1897.4" cy="458.0" r="8.8"/>
<circle cx="1911.5" cy="425.9" r="8.8"/>
<circle cx="1932.3" cy="397.7" r="8.8"/>
<circle cx="1940.1" cy="387.3" r="8.8"/>
<circle cx="1962.4" cy="371.4" r="8.8"/>
<circle cx="1973.8" cy="362.6" r="8.8"/>
<circle cx="1996.4" cy="350.3" r="8.8"/>
</g>
<g fill="#ffffff" stroke="#000000" stroke-width="1.3">
<circle cx="1996.6" cy="347.0" r="8.8"/>
<circle cx="1956.2" cy="352.5" r="8.8"/>
<circle cx="1920.6" cy="356.0" r="8.8"/>
<circle cx="1888.9" cy="358.7" r="8.8"/>
<circle cx="1882.5" cy="359.5" r="8.8"/>
<circle cx="1866.2" cy="361.6" r="8.8"/>
<circle cx="1851.9" cy="365.9" r="8.8"/>
<circle cx="1820.7" cy="392.7" r="8.8"/>
<circle cx="1789.8" cy="474.6" r="8.8"/>
<circle cx="1751.1" cy="599.0" r="8.8"/>
<circle cx="1724.3" cy="672.5" r="8.8"/>
<circle cx="1690.0" cy="745.0" r="8.8"/>
<circle cx="1662.1" cy="791.0" r="8.8"/>
<circle cx="1631.1" cy="835.2" r="8.8"/>
<circle cx="1595.9" cy="880.6" r="8.8"/>
<circle cx="1563.6" cy="918.6" r="8.8"/>
<circle cx="1529.9" cy="955.4" r="8.8"/>
<circle cx="1489.5" cy="995.1" r="8.8"/>
<circle cx="1448.4" cy="1030.2" r="8.8"/>
<circle cx="1408.2" cy="1058.9" r="8.8"/>
<circle cx="1367.8" cy="1081.6" r="8.8"/>
<circle cx="1288.8" cy="1115.2" r="8.8"/>
<circle cx="1207.0" cy="1140.0" r="8.8"/>
<circle cx="1128.8" cy="1159.4" r="8.8"/>
<circle cx="1046.5" cy="1177.1" r="8.8"/>
<circle cx="965.3" cy="1189.7" r="8.8"/>
<circle cx="883.5" cy="1201.5" r="8.8"/>
<circle cx="800.6" cy="1213.1" r="8.8"/>
<circle cx="720.2" cy="1223.8" r="8.8"/>
<circle cx="676.2" cy="1229.4" r="8.8"/>
<circle cx="635.3" cy="1233.8" r="8.8"/>
<circle cx="598.3" cy="1238.9" r="8.8"/>
<circle cx="557.5" cy="1243.7" r="8.8"/>
<circle cx="514.1" cy="1250.6" r="8.8"/>
</g>
</g>
<g id="sA">
<polyline points="407.2,1276.4 441.3,1253.7 496.9,1236.2 547.8,1224.6 592.3,1214.6 612.8,1210.7 633.1,1206.5 653.6,1202.5 673.8,1198.5 694.3,1194.5 714.2,1190.6 734.6,1187.0 754.9,1183.0 793.6,1174.5 816.0,1169.5 836.5,1164.8 857.0,1160.4 877.3,1156.0 897.5,1151.6 919.5,1149.3 960.2,1139.5 1001.0,1130.2 1040.3,1120.3 1085.3,1108.2 1119.0,1098.4 1158.9,1087.1 1200.0,1075.3 1282.2,1047.9 1356.8,1018.3 1435.8,978.7 1526.3,914.2 1609.0,827.0 1689.4,703.5 1775.2,538.0 1849.1,353.7 1911.1,213.4 1993.7,161.2" fill="none" stroke="#808080" stroke-width="10.4" stroke-linejoin="round" stroke-linecap="butt"/>
<polyline points="1993.7,161.2 1914.3,193.8 1834.5,206.0 1774.6,279.0 1686.1,546.9 1630.7,666.8 1589.5,733.1 1553.5,790.1 1529.0,826.0 1498.4,867.5 1425.5,947.2 1404.5,964.7 1370.1,989.5 1281.4,1037.9 1208.9,1066.9 1129.7,1093.3 1054.4,1114.4 1021.2,1123.1 970.9,1135.5 925.9,1145.5 878.6,1159.0" fill="none" stroke="#808080" stroke-width="10.4" stroke-linejoin="round" stroke-linecap="butt"/>
<g fill="#ffffff" stroke="#808080" stroke-width="1.3">
<circle cx="1054.4" cy="1114.4" r="8.8"/>
<circle cx="1021.2" cy="1123.1" r="8.8"/>
<circle cx="970.9" cy="1135.5" r="8.8"/>
<circle cx="925.9" cy="1145.5" r="8.8"/>
<circle cx="878.6" cy="1159.0" r="8.8"/>
</g>
<g fill="#ffffff" stroke="#808080" stroke-width="1.3">
<circle cx="407.2" cy="1276.4" r="8.8"/>
<circle cx="441.3" cy="1253.7" r="8.8"/>
<circle cx="496.9" cy="1236.2" r="8.8"/>
<circle cx="547.8" cy="1224.6" r="8.8"/>
<circle cx="592.3" cy="1214.6" r="8.8"/>
<circle cx="612.8" cy="1210.7" r="8.8"/>
<circle cx="633.1" cy="1206.5" r="8.8"/>
<circle cx="653.6" cy="1202.5" r="8.8"/>
<circle cx="673.8" cy="1198.5" r="8.8"/>
<circle cx="694.3" cy="1194.5" r="8.8"/>
<circle cx="714.2" cy="1190.6" r="8.8"/>
<circle cx="734.6" cy="1187.0" r="8.8"/>
<circle cx="754.9" cy="1183.0" r="8.8"/>
<circle cx="793.6" cy="1174.5" r="8.8"/>
<circle cx="816.0" cy="1169.5" r="8.8"/>
<circle cx="836.5" cy="1164.8" r="8.8"/>
<circle cx="857.0" cy="1160.4" r="8.8"/>
<circle cx="877.3" cy="1156.0" r="8.8"/>
<circle cx="897.5" cy="1151.6" r="8.8"/>
<circle cx="919.5" cy="1149.3" r="8.8"/>
<circle cx="960.2" cy="1139.5" r="8.8"/>
<circle cx="1001.0" cy="1130.2" r="8.8"/>
<circle cx="1040.3" cy="1120.3" r="8.8"/>
<circle cx="1085.3" cy="1108.2" r="8.8"/>
<circle cx="1119.0" cy="1098.4" r="8.8"/>
<circle cx="1158.9" cy="1087.1" r="8.8"/>
<circle cx="1200.0" cy="1075.3" r="8.8"/>
<circle cx="1282.2" cy="1047.9" r="8.8"/>
<circle cx="1356.8" cy="1018.3" r="8.8"/>
<circle cx="1435.8" cy="978.7" r="8.8"/>
<circle cx="1526.3" cy="914.2" r="8.8"/>
<circle cx="1609.0" cy="827.0" r="8.8"/>
<circle cx="1689.4" cy="703.5" r="8.8"/>
<circle cx="1775.2" cy="538.0" r="8.8"/>
<circle cx="1849.1" cy="353.7" r="8.8"/>
<circle cx="1911.1" cy="213.4" r="8.8"/>
<circle cx="1993.7" cy="161.2" r="8.8"/>
</g>
<g fill="#ffffff" stroke="#808080" stroke-width="1.3">
<circle cx="1993.7" cy="161.2" r="8.8"/>
<circle cx="1914.3" cy="193.8" r="8.8"/>
<circle cx="1834.5" cy="206.0" r="8.8"/>
<circle cx="1774.6" cy="279.0" r="8.8"/>
<circle cx="1686.1" cy="546.9" r="8.8"/>
<circle cx="1630.7" cy="666.8" r="8.8"/>
<circle cx="1589.5" cy="733.1" r="8.8"/>
<circle cx="1553.5" cy="790.1" r="8.8"/>
<circle cx="1529.0" cy="826.0" r="8.8"/>
<circle cx="1498.4" cy="867.5" r="8.8"/>
<circle cx="1425.5" cy="947.2" r="8.8"/>
<circle cx="1404.5" cy="964.7" r="8.8"/>
<circle cx="1370.1" cy="989.5" r="8.8"/>
<circle cx="1281.4" cy="1037.9" r="8.8"/>
<circle cx="1208.9" cy="1066.9" r="8.8"/>
<circle cx="1129.7" cy="1093.3" r="8.8"/>
</g>
</g>
<g stroke="#000" stroke-width="10.0" fill="none" stroke-linecap="butt">
<rect x="326.0" y="49.8" width="1751.0" height="1415.9"/>
<line x1="299.0" y1="1421.3" x2="326.0" y2="1421.3"/>
<line x1="312.6" y1="1284.1" x2="326.0" y2="1284.1"/>
<line x1="299.0" y1="1147.0" x2="326.0" y2="1147.0"/>
<line x1="312.6" y1="1009.8" x2="326.0" y2="1009.8"/>
<line x1="299.0" y1="872.7" x2="326.0" y2="872.7"/>
<line x1="312.6" y1="735.5" x2="326.0" y2="735.5"/>
<line x1="299.0" y1="598.4" x2="326.0" y2="598.4"/>
<line x1="312.6" y1="461.2" x2="326.0" y2="461.2"/>
<line x1="299.0" y1="324.1" x2="326.0" y2="324.1"/>
<line x1="312.6" y1="187.0" x2="326.0" y2="187.0"/>
<line x1="299.0" y1="49.8" x2="326.0" y2="49.8"/>
<line x1="391.0" y1="1465.7" x2="391.0" y2="1493.0"/>
<line x1="391.0" y1="49.8" x2="391.0" y2="77.0"/>
<line x1="553.1" y1="1465.7" x2="553.1" y2="1479.0"/>
<line x1="553.1" y1="49.8" x2="553.1" y2="63.2"/>
<line x1="715.2" y1="1465.7" x2="715.2" y2="1493.0"/>
<line x1="715.2" y1="49.8" x2="715.2" y2="77.0"/>
<line x1="877.3" y1="1465.7" x2="877.3" y2="1479.0"/>
<line x1="877.3" y1="49.8" x2="877.3" y2="63.2"/>
<line x1="1039.4" y1="1465.7" x2="1039.4" y2="1493.0"/>
<line x1="1039.4" y1="49.8" x2="1039.4" y2="77.0"/>
<line x1="1201.5" y1="1465.7" x2="1201.5" y2="1479.0"/>
<line x1="1201.5" y1="49.8" x2="1201.5" y2="63.2"/>
<line x1="1363.6" y1="1465.7" x2="1363.6" y2="1493.0"/>
<line x1="1363.6" y1="49.8" x2="1363.6" y2="77.0"/>
<line x1="1525.7" y1="1465.7" x2="1525.7" y2="1479.0"/>
<line x1="1525.7" y1="49.8" x2="1525.7" y2="63.2"/>
<line x1="1687.8" y1="1465.7" x2="1687.8" y2="1493.0"/>
<line x1="1687.8" y1="49.8" x2="1687.8" y2="77.0"/>
<line x1="1849.9" y1="1465.7" x2="1849.9" y2="1479.0"/>
<line x1="1849.9" y1="49.8" x2="1849.9" y2="63.2"/>
<line x1="2012.0" y1="1465.7" x2="2012.0" y2="1493.0"/>
<line x1="2012.0" y1="49.8" x2="2012.0" y2="77.0"/>
</g>
<g font-size="73.1" text-anchor="middle">
<text transform="translate(391.0,1570.0) scale(1,1.030)">0.0</text>
<text transform="translate(715.2,1570.0) scale(1,1.030)">0.2</text>
<text transform="translate(1039.4,1570.0) scale(1,1.030)">0.4</text>
<text transform="translate(1363.6,1570.0) scale(1,1.030)">0.6</text>
<text transform="translate(1687.8,1570.0) scale(1,1.030)">0.8</text>
<text transform="translate(2012.0,1570.0) scale(1,1.030)">1.0</text>
</g>
<g font-size="73.1" text-anchor="end">
<text transform="translate(280.0,1444.1) scale(1,1.030)">0</text>
<text transform="translate(280.0,1169.8) scale(1,1.030)">50</text>
<text transform="translate(280.0,895.5) scale(1,1.030)">100</text>
<text transform="translate(280.0,621.2) scale(1,1.030)">150</text>
<text transform="translate(280.0,346.9) scale(1,1.030)">200</text>
<text transform="translate(280.0,72.6) scale(1,1.030)">250</text>
</g>
<text x="1203.2" y="1696.2" font-size="80.05" text-anchor="middle">Relative pressure (p/p<tspan font-size="53.4" dy="21.4">0</tspan><tspan dy="-21.4" dx="4.5">)</tspan></text>
<text transform="translate(84.3,756.2) rotate(-90)" font-size="80.4" text-anchor="middle">Volume adsorbed (cm<tspan font-size="53.6" dy="-33.2">-3</tspan><tspan dy="33.2">.g</tspan><tspan font-size="53.6" dy="-33.2">-<tspan dx="2.3">1</tspan></tspan><tspan dy="33.2">)</tspan></text>
<text transform="translate(2095.0,170.3) scale(1,1.045)" font-size="60.0">TiO<tspan font-size="40.0" dy="15.0">2</tspan><tspan dy="-15.0">/C-9-1</tspan></text>
<text transform="translate(2092.8,302.8) scale(1,1.045)" font-size="60.0">TiO<tspan font-size="40.0" dy="15.0">2</tspan><tspan dy="-15.0">/C-9-2</tspan></text>
<text transform="translate(2092.8,408.9) scale(1,1.045)" font-size="60.0">TiO<tspan font-size="40.0" dy="15.0">2</tspan><tspan dy="-15.0">/C-9-8</tspan></text>
<text transform="translate(2096.0,612.8) scale(1,1.045)" font-size="60.0">TiO<tspan font-size="40.0" dy="15.0">2</tspan><tspan dy="-15.0">/C-8-4</tspan></text>
<text transform="translate(2095.0,876.8) scale(1,1.045)" font-size="60.0">TiO<tspan font-size="40.0" dy="15.0">2</tspan><tspan dy="-15.0">-5-5</tspan></text>
<text transform="translate(2097.5,1364.8) scale(1,1.045)" font-size="60.0">xer-TiO<tspan font-size="40.0" dy="16.3">2</tspan></text>
</svg></body></html>
